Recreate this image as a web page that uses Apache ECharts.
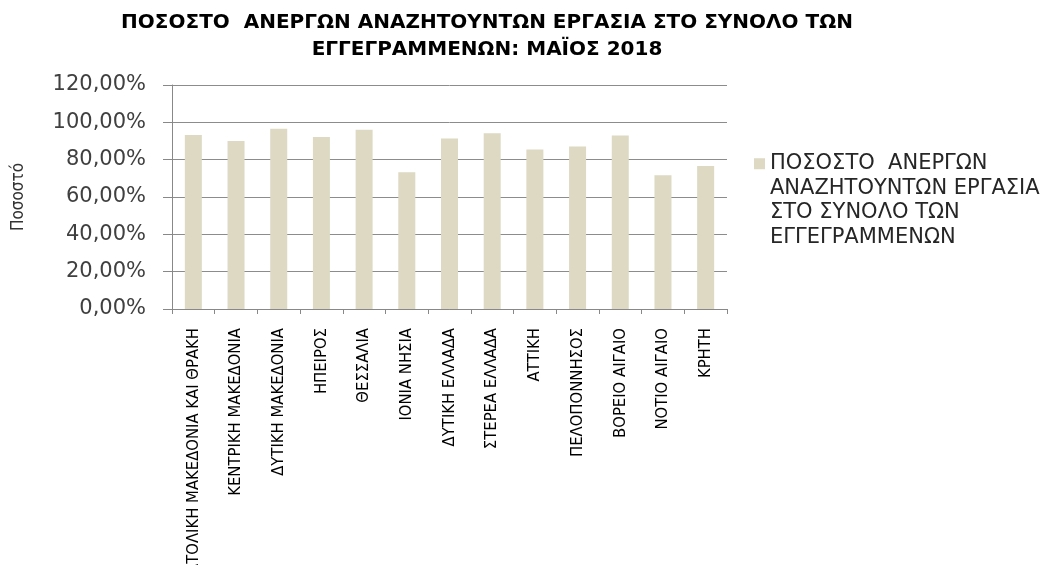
<!DOCTYPE html>
<html>
<head>
<meta charset="utf-8">
<script src="https://cdn.jsdelivr.net/npm/echarts@6/dist/echarts.min.js"></script>
<style>html,body{margin:0;padding:0;background:#fff;}#c{width:1053px;height:565px;}</style>
</head>
<body>
<div id="c"></div>
<script>
const titleText = 'ΠΟΣΟΣΤΟ  ΑΝΕΡΓΩΝ ΑΝΑΖΗΤΟΥΝΤΩΝ ΕΡΓΑΣΙΑ ΣΤΟ ΣΥΝΟΛΟ ΤΩΝ\nΕΓΓΕΓΡΑΜΜΕΝΩΝ: ΜΑΪΟΣ 2018';
const seriesName = 'ΠΟΣΟΣΤΟ  ΑΝΕΡΓΩΝ ΑΝΑΖΗΤΟΥΝΤΩΝ ΕΡΓΑΣΙΑ ΣΤΟ ΣΥΝΟΛΟ ΤΩΝ ΕΓΓΕΓΡΑΜΜΕΝΩΝ';
const legendLines = ['ΠΟΣΟΣΤΟ  ΑΝΕΡΓΩΝ', 'ΑΝΑΖΗΤΟΥΝΤΩΝ ΕΡΓΑΣΙΑ', 'ΣΤΟ ΣΥΝΟΛΟ ΤΩΝ', 'ΕΓΓΕΓΡΑΜΜΕΝΩΝ'];
const yAxisName = 'Ποσοστό';
const categories = [
  'ΑΝΑΤΟΛΙΚΗ ΜΑΚΕΔΟΝΙΑ ΚΑΙ ΘΡΑΚΗ', 'ΚΕΝΤΡΙΚΗ ΜΑΚΕΔΟΝΙΑ', 'ΔΥΤΙΚΗ ΜΑΚΕΔΟΝΙΑ', 'ΗΠΕΙΡΟΣ',
  'ΘΕΣΣΑΛΙΑ', 'ΙΟΝΙΑ ΝΗΣΙΑ', 'ΔΥΤΙΚΗ ΕΛΛΑΔΑ', 'ΣΤΕΡΕΑ ΕΛΛΑΔΑ', 'ΑΤΤΙΚΗ',
  'ΠΕΛΟΠΟΝΝΗΣΟΣ', 'ΒΟΡΕΙΟ ΑΙΓΑΙΟ', 'ΝΟΤΙΟ ΑΙΓΑΙΟ', 'ΚΡΗΤΗ'
];
const values = [93.2, 90.0, 96.6, 92.1, 96.0, 73.3, 91.4, 94.1, 85.4, 87.0, 93.0, 71.7, 76.6];
const yTicks = { min: 0, max: 120, interval: 20 };

const chart = echarts.init(document.getElementById('c'));
chart.setOption({
  backgroundColor: '#ffffff',
  animation: false,
  title: {
    text: titleText,
    left: 482, top: 4, textAlign: 'center',
    textStyle: { fontFamily: 'DejaVu Sans', fontWeight: 'bold', fontSize: 20, color: '#000', lineHeight: 27 }
  },
  legend: {
    left: 754, top: 78, padding: 0,
    itemWidth: 11, itemHeight: 11, itemGap: 10,
    icon: 'rect',
    data: [seriesName],
    formatter: () => '\n\n\n' + legendLines.join('\n'),
    textStyle: { fontFamily: 'DejaVu Sans', fontSize: 21, color: '#262626', lineHeight: 24.5 }
  },
  grid: { left: 172, right: 326, top: 85, bottom: 256, containLabel: false, outerBoundsMode: 'none' },
  xAxis: {
    type: 'category',
    data: categories,
    axisLine: { show: true, lineStyle: { color: '#888', width: 1 } },
    axisTick: { show: true, length: 5, lineStyle: { color: '#888' } },
    axisLabel: {
      rotate: 90, interval: 0, margin: 19,
      fontFamily: 'Liberation Sans Narrow, DejaVu Sans Condensed, sans-serif',
      fontSize: 16.5, color: '#000'
    }
  },
  yAxis: {
    type: 'value',
    min: yTicks.min, max: yTicks.max, interval: yTicks.interval,
    name: yAxisName, nameLocation: 'middle', nameRotate: 90, nameGap: 145,
    nameTextStyle: { fontFamily: 'Liberation Sans Narrow, DejaVu Sans Condensed, sans-serif', fontSize: 17, color: '#333' },
    axisLine: { show: true, lineStyle: { color: '#888', width: 1 } },
    axisTick: { show: true, length: 9, lineStyle: { color: '#888' } },
    splitLine: { show: true, lineStyle: { color: '#8c8c8c', width: 1 } },
    axisLabel: {
      margin: 26,
      fontFamily: 'DejaVu Sans', fontSize: 21, color: '#404040',
      formatter: v => v.toFixed(2).replace('.', ',') + '%'
    }
  },
  series: [{
    name: seriesName,
    type: 'bar',
    data: values,
    barWidth: 17,
    itemStyle: { color: '#DDD9C3' }
  }]
});
</script>
</body>
</html>
